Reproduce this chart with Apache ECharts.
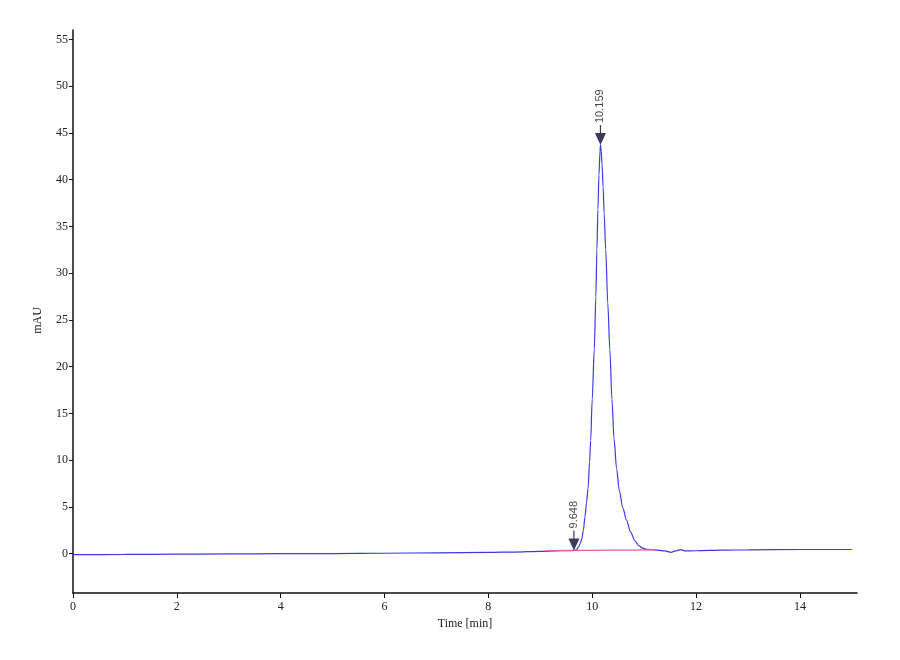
<!DOCTYPE html>
<html>
<head>
<meta charset="utf-8">
<script src="https://cdn.jsdelivr.net/npm/echarts@6/dist/echarts.min.js"></script>
<style>html,body{margin:0;padding:0;background:#fff}#c{width:900px;height:660px}</style>
</head>
<body>
<div id="c"></div>
<script>
// Chromatogram trace: time (min) and absorbance (mAU)
const times = [0, 1, 2, 3, 4, 5, 6, 7, 8, 8.5, 9.0, 9.3, 9.5, 9.65, 9.70, 9.74, 9.77, 9.80, 9.83, 9.86, 9.89, 9.92, 9.95, 9.97, 10.00, 10.04, 10.07, 10.09, 10.11, 10.13, 10.15, 10.159, 10.17, 10.19, 10.21, 10.23, 10.26, 10.30, 10.34, 10.38, 10.42, 10.47, 10.52, 10.59, 10.66, 10.74, 10.82, 10.90, 10.97, 11.05, 11.2, 11.4, 11.52, 11.6, 11.7, 11.8, 12.0, 12.5, 13.0, 14.0, 15.0];
const signal = [-0.1, -0.08, -0.05, -0.02, 0.0, 0.02, 0.05, 0.1, 0.14, 0.18, 0.25, 0.3, 0.33, 0.35, 0.45, 0.75, 1.1, 1.6, 2.5, 3.9, 5.4, 7.0, 9.8, 12.1, 16.5, 21.8, 27.5, 32.5, 36.8, 40.5, 43.0, 43.7, 43.3, 41.6, 39.2, 36.4, 32.5, 26.8, 21.8, 16.5, 12.3, 9.1, 6.8, 4.9, 3.6, 2.3, 1.4, 0.85, 0.6, 0.48, 0.42, 0.3, 0.15, 0.3, 0.43, 0.3, 0.32, 0.38, 0.42, 0.45, 0.45];
// Integration baseline
const baseTimes = [9.1, 11.25];
const baseValues = [0.33, 0.42];
// Peak markers
const peakTimes = [9.648, 10.159];
const peakValues = [0.35, 43.7];
const peakLabels = ['9.648', '10.159'];
// Axis ticks
const xTicks = [0, 2, 4, 6, 8, 10, 12, 14];
const yTicks = [0, 5, 10, 15, 20, 25, 30, 35, 40, 45, 50, 55];

const trace = times.map((t, i) => [t, signal[i]]);
const base = baseTimes.map((t, i) => [t, baseValues[i]]);
const peaks = peakTimes.map((t, i) => ({ value: [t, peakValues[i]], label: { formatter: peakLabels[i] } }));

const serif = 'Liberation Serif';
const chart = echarts.init(document.getElementById('c'), null, { renderer: 'canvas' });
chart.setOption({
  backgroundColor: '#ffffff',
  animation: false,
  grid: { left: 73, right: 43, top: 30, bottom: 67, containLabel: false },
  xAxis: {
    type: 'value', min: 0, max: 15.1,
    name: 'Time [min]', nameLocation: 'middle', nameGap: 22,
    nameTextStyle: { fontFamily: serif, fontSize: 12, color: '#222' },
    axisLine: { show: true, onZero: false, lineStyle: { color: '#111', width: 1.5 } },
    axisTick: { show: true, length: 5, customValues: xTicks, lineStyle: { color: '#111', width: 1 } },
    axisLabel: { fontFamily: serif, fontSize: 12, color: '#222', margin: 8, customValues: xTicks },
    splitLine: { show: false }
  },
  yAxis: {
    type: 'value', min: -4.2, max: 56,
    name: 'mAU', nameLocation: 'middle', nameGap: 29,
    nameTextStyle: { fontFamily: serif, fontSize: 12, color: '#222', padding: [0, 18, 0, 0] },
    axisLine: { show: true, onZero: false, lineStyle: { color: '#111', width: 1.5 } },
    axisTick: { show: true, length: 4, customValues: yTicks, lineStyle: { color: '#111', width: 1 } },
    axisLabel: { fontFamily: serif, fontSize: 12, color: '#222', margin: 5, customValues: yTicks },
    splitLine: { show: false }
  },
  series: [
    {
      type: 'line', data: trace, showSymbol: false, smooth: 0.3, smoothMonotone: 'x', z: 2,
      lineStyle: { color: '#3b3bdc', width: 1.2 }
    },
    {
      type: 'line', data: base, showSymbol: false, z: 3,
      lineStyle: { color: '#e2609c', width: 1.2 }
    },
    {
      type: 'scatter', data: peaks, z: 5,
      symbol: 'path://M4.4,0 L5.6,0 L5.6,8 L10.5,8 L5,20 L-0.5,8 L4.4,8 Z',
      symbolSize: [11, 20], symbolOffset: [0, '-50%'],
      itemStyle: { color: '#0a0a30' },
      label: {
        show: true, position: 'top', rotate: 90, distance: 2,
        align: 'left', verticalAlign: 'middle',
        fontFamily: 'Liberation Sans', fontSize: 11, color: '#111'
      }
    }
  ]
});
</script>
</body>
</html>
